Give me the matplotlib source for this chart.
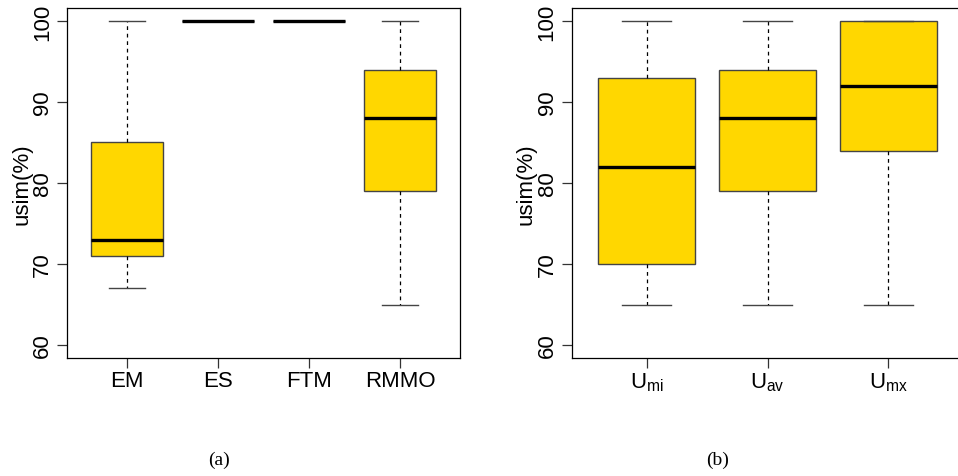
import matplotlib
matplotlib.use("Agg")
import matplotlib.pyplot as plt

plt.rcParams['font.family'] = ['Liberation Sans', 'DejaVu Sans']

# datos: bigote inferior, Q1, mediana, Q3, bigote superior
labels_a = ['EM', 'ES', 'FTM', 'RMMO']
low_a = [67, 100, 100, 65]
q1_a = [71, 100, 100, 79]
med_a = [73, 100, 100, 88]
q3_a = [85, 100, 100, 94]
high_a = [100, 100, 100, 100]

labels_b = [r'$\mathregular{U_{mi}}$', r'$\mathregular{U_{av}}$', r'$\mathregular{U_{mx}}$']
low_b = [65, 65, 65]
q1_b = [70, 79, 84]
med_b = [82, 88, 92]
q3_b = [93, 94, 100]
high_b = [100, 100, 100]

yticks = [60, 70, 80, 90, 100]


def stats(labels, lo, q1, med, q3, hi):
    return [dict(label=l, whislo=a, q1=b, med=c, q3=d, whishi=e, fliers=[])
            for l, a, b, c, d, e in zip(labels, lo, q1, med, q3, hi)]


def caja(ax, st, n):
    ax.bxp(st, positions=range(1, n + 1), widths=0.8, patch_artist=True,
           showfliers=False,
           boxprops=dict(facecolor='#FFD700', edgecolor='#444444', linewidth=1),
           medianprops=dict(color='black', linewidth=2.4),
           whiskerprops=dict(color='black', linestyle=(0, (3, 3)), linewidth=0.9),
           capprops=dict(color='#444444', linewidth=1),
           capwidths=0.4)
    ax.set_xlim(0.5 - 0.04 * n, n + 0.5 + 0.04 * n)
    ax.set_ylim(58.4, 101.6)
    ax.set_yticks(yticks)
    ax.set_yticklabels([str(v) for v in yticks], rotation=90, va='center')
    ax.tick_params(axis='both', labelsize=16, length=7, width=0.9, color='#333333')
    ax.tick_params(axis='x', pad=2)
    ax.tick_params(axis='y', pad=3)
    ax.set_ylabel('usim(%)', fontsize=16, labelpad=0)
    for s in ax.spines.values():
        s.set_linewidth(0.9)


fig = plt.figure(figsize=(9.58, 4.77), dpi=100)
W, H = 958.0, 477.0
ax1 = fig.add_axes([67 / W, (H - 359) / H, (460 - 67) / W, 350 / H])
ax2 = fig.add_axes([571.5 / W, (H - 359) / H, 392 / W, 350 / H])

caja(ax1, stats(labels_a, low_a, q1_a, med_a, q3_a, high_a), 4)
caja(ax2, stats(labels_b, low_b, q1_b, med_b, q3_b, high_b), 3)

fig.text(219 / W, 1 - 460 / H, '(a)', fontsize=14, family='Liberation Serif', ha='center', va='center')
fig.text(718 / W, 1 - 460 / H, '(b)', fontsize=14, family='Liberation Serif', ha='center', va='center')

fig.savefig('out.png', dpi=100)
